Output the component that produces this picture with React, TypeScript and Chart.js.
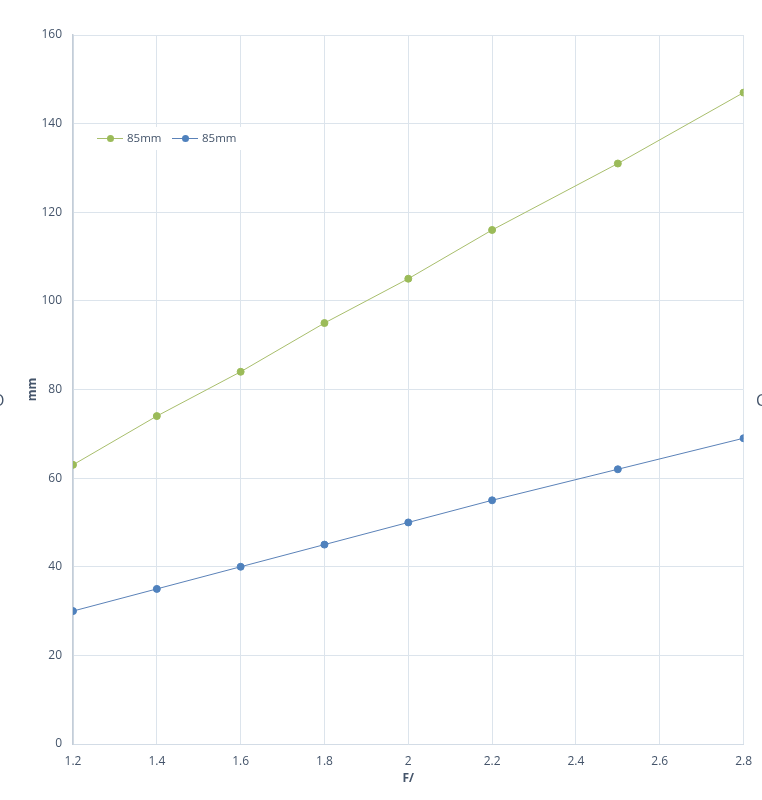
import React, { useEffect, useRef } from "react";
import { Chart, registerables } from "chart.js";

Chart.register(...registerables);

const apertures = [1.2, 1.4, 1.6, 1.8, 2, 2.2, 2.5, 2.8];
const greenValues = [63, 74, 84, 95, 105, 116, 131, 147];
const blueValues = [30, 35, 40, 45, 50, 55, 62, 69];
const seriesNames = ["85mm", "85mm"];
const xTitle = "F/";
const yTitle = "mm";

const GREEN = "#9BBB59";
const GREEN_LINE = "#A8BE6C";
const BLUE = "#4F81BD";
const BLUE_LINE = "#5B82B8";
const TEXT = "#44546A";
const FONT = "'Open Sans', 'DejaVu Sans', sans-serif";

const legendPlugin = {
  id: "customLegend",
  afterDatasetsDraw(chart: any) {
    const ctx = chart.ctx;
    ctx.save();
    ctx.fillStyle = "#ffffff";
    ctx.fillRect(93, 127, 150, 23);
    const items = [
      { x: 97, color: GREEN, line: GREEN_LINE, name: seriesNames[0] },
      { x: 172, color: BLUE, line: BLUE_LINE, name: seriesNames[1] },
    ];
    const y = 138.5;
    items.forEach((it) => {
      ctx.strokeStyle = it.line;
      ctx.lineWidth = 1;
      ctx.beginPath();
      ctx.moveTo(it.x, y);
      ctx.lineTo(it.x + 26, y);
      ctx.stroke();
      ctx.fillStyle = it.color;
      ctx.beginPath();
      ctx.arc(it.x + 13.5, y, 3.5, 0, Math.PI * 2);
      ctx.fill();
      ctx.fillStyle = TEXT;
      ctx.font = `11.5px ${FONT}`;
      ctx.textBaseline = "middle";
      ctx.textAlign = "left";
      ctx.fillText(it.name, it.x + 30, y);
    });
    // cropped edge glyphs
    ctx.font = `16px ${FONT}`;
    ctx.fillStyle = TEXT;
    ctx.textBaseline = "middle";
    ctx.fillText("C", 756, 401);
    ctx.fillText("O", -8, 401);
    ctx.restore();
  },
};

export default function App() {
  const ref = useRef<HTMLCanvasElement>(null);
  useEffect(() => {
    document.body.style.margin = "0";
    const chart = new Chart(ref.current as HTMLCanvasElement, {
      type: "line",
      data: {
        datasets: [
          {
            label: seriesNames[0],
            data: apertures.map((a, i) => ({ x: a, y: greenValues[i] })),
            borderColor: GREEN_LINE,
            backgroundColor: GREEN,
            pointBackgroundColor: GREEN,
            pointBorderColor: GREEN,
            borderWidth: 1,
            pointRadius: 3.5,
            tension: 0,
          },
          {
            label: seriesNames[1],
            data: apertures.map((a, i) => ({ x: a, y: blueValues[i] })),
            borderColor: BLUE_LINE,
            backgroundColor: BLUE,
            pointBackgroundColor: BLUE,
            pointBorderColor: BLUE,
            borderWidth: 1,
            pointRadius: 3.5,
            tension: 0,
          },
        ],
      },
      options: {
        animation: false,
        responsive: false,
        maintainAspectRatio: false,
        layout: { padding: { left: 20, top: 35, right: 14, bottom: 0 } },
        plugins: { legend: { display: false }, tooltip: { enabled: false } },
        scales: {
          x: {
            type: "linear",
            min: 1.2,
            max: 2.8,
            afterFit: (s: any) => {
              s.height = 56;
            },
            ticks: {
              stepSize: 0.2,
              color: TEXT,
              font: { family: FONT, size: 12 },
              padding: 10,
              maxRotation: 0,
              callback: (v: any) => String(Math.round(Number(v) * 10) / 10),
            },
            grid: { color: "#DCE4EC", drawTicks: false },
            border: { color: "#D3DCE6" },
            title: {
              display: true,
              text: xTitle,
              color: TEXT,
              font: { family: FONT, size: 12, weight: "bold" },
              padding: { top: 0, bottom: 14 },
            },
          },
          y: {
            min: 0,
            max: 160,
            afterFit: (s: any) => {
              s.width = 53;
            },
            ticks: {
              stepSize: 20,
              color: TEXT,
              font: { family: FONT, size: 12 },
              padding: 11,
            },
            grid: { color: "#DCE4EC", drawTicks: false },
            border: { color: "#C4CDD8", width: 1.5 },
            title: {
              display: true,
              text: yTitle,
              color: TEXT,
              font: { family: FONT, size: 12, weight: "bold" },
              padding: { top: 5, bottom: 0 },
            },
          },
        },
      },
      plugins: [legendPlugin],
    } as any);
    return () => chart.destroy();
  }, []);
  return (
    <div style={{ width: 762, height: 800 }}>
      <canvas ref={ref} width={762} height={800} style={{ display: "block" }} />
    </div>
  );
}
